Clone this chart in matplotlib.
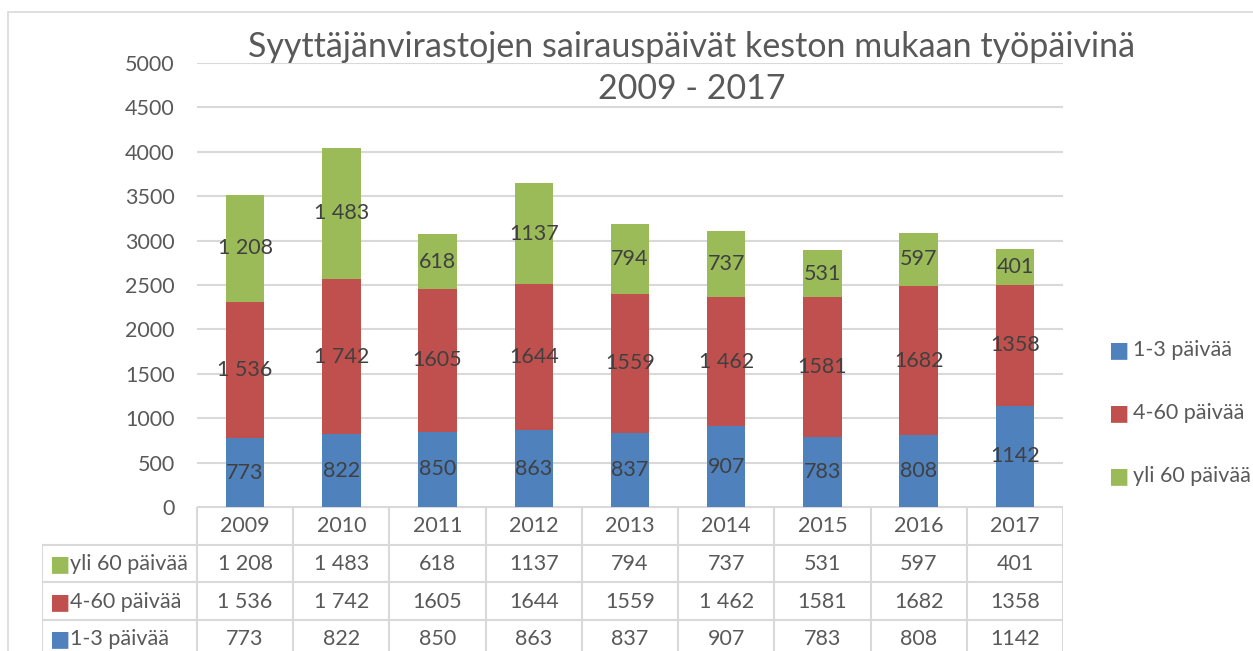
import matplotlib
matplotlib.use("Agg")
import matplotlib.pyplot as plt
from matplotlib.patches import Rectangle
import numpy as np

plt.rcParams['font.family'] = ['Lato', 'DejaVu Sans']

years = ["2009", "2010", "2011", "2012", "2013", "2014", "2015", "2016", "2017"]
series_names = ["1-3 päivää", "4-60 päivää", "yli 60 päivää"]
short_days = [773, 822, 850, 863, 837, 907, 783, 808, 1142]
mid_days = [1536, 1742, 1605, 1644, 1559, 1462, 1581, 1682, 1358]
long_days = [1208, 1483, 618, 1137, 794, 737, 531, 597, 401]
# labels as they are written in the source table (mixed thousand separators)
short_labels = ["773", "822", "850", "863", "837", "907", "783", "808", "1142"]
mid_labels = ["1 536", "1 742", "1605", "1644", "1559", "1 462", "1581", "1682", "1358"]
long_labels = ["1 208", "1 483", "618", "1137", "794", "737", "531", "597", "401"]
colors = ["#4F81BD", "#C0504D", "#9BBB59"]
title = "Syyttäjänvirastojen sairauspäivät keston mukaan työpäivinä\n2009 - 2017"

W, H = 1253, 651
fig = plt.figure(figsize=(W / 100, H / 100), dpi=100)


def fx(px):
    return px / W


def fy(py):
    return 1 - py / H


txt_c = "#595959"
lbl_c = "#404040"
grid_c = "#d9d9d9"
fs = 15.5

# chart outline
fig.patches.append(Rectangle((fx(8), fy(700)), fx(1300), fy(12) - fy(700),
                             transform=fig.transFigure, fill=False,
                             edgecolor=grid_c, lw=1.2))

ax = fig.add_axes([fx(197), fy(507), fx(1063) - fx(197), fy(63) - fy(507)])
x = np.arange(len(years))
vals = [short_days, mid_days, long_days]
labs = [short_labels, mid_labels, long_labels]
bottom = np.zeros(len(years))
for v, l, c in zip(vals, labs, colors):
    v = np.array(v)
    ax.bar(x, v, width=0.4, bottom=bottom, color=c, zorder=3)
    for xi, b, vi, li in zip(x, bottom, v, l):
        ax.text(xi, b + vi / 2, li, ha="center", va="center", fontsize=fs,
                color=lbl_c, zorder=4)
    bottom = bottom + v

ax.set_xlim(-0.5, len(years) - 0.5)
ax.set_ylim(0, 5000)
ax.set_yticks(np.arange(0, 5001, 500))
ax.yaxis.grid(True, color=grid_c, lw=1.5, zorder=0)
ax.tick_params(axis="y", length=0, labelsize=fs, labelcolor=txt_c, pad=16)
ax.set_xticks([])
for s in ax.spines.values():
    s.set_visible(False)

fig.text(fx(692), fy(68), title, ha="center", va="center", fontsize=24.5,
         color=txt_c, linespacing=1.35)

# data table under the plot, x axis in category units
lab_w = (197 - 42) / ((1063 - 197) / len(years))
tab = fig.add_axes([fx(42), 0, fx(1063) - fx(42), fy(507)])
tab.set_xlim(-0.5 - lab_w, len(years) - 0.5)
row_h = 37.6
tab.set_ylim((H - 507) / row_h, 0)
tab.axis("off")
lw = 1.5
left = -0.5 - lab_w
right = len(years) - 0.5
tab.plot([-0.5, right], [0, 0], color=grid_c, lw=lw)
for r in range(1, 4):
    tab.plot([left, right], [r, r], color=grid_c, lw=lw)
for k in range(len(years) + 1):
    tab.plot([k - 0.5, k - 0.5], [0, 5], color=grid_c, lw=lw)
tab.plot([left, left], [1, 5], color=grid_c, lw=lw)
for i, yr in enumerate(years):
    tab.text(i, 0.5, yr, ha="center", va="center", fontsize=fs, color=txt_c)
rows = [(series_names[2], long_labels, colors[2]),
        (series_names[1], mid_labels, colors[1]),
        (series_names[0], short_labels, colors[0])]
for r, (name, lbls, c) in enumerate(rows, start=1):
    tab.text(left + 0.07, r + 0.52, "■", ha="left", va="center", fontsize=fs,
             color=c, family="DejaVu Sans")
    tab.text(left + 0.29, r + 0.52, name, ha="left", va="center", fontsize=fs,
             color=txt_c)
    for i, l in enumerate(lbls):
        tab.text(i, r + 0.52, l, ha="center", va="center", fontsize=fs,
                 color=txt_c)

# legend on the right
for name, c, py in zip(series_names, colors, [350, 413, 476]):
    fig.text(fx(1108), fy(py), "■", ha="left", va="center", fontsize=fs,
             color=c, family="DejaVu Sans")
    fig.text(fx(1133), fy(py), name, ha="left", va="center", fontsize=fs,
             color=txt_c)

fig.savefig("out.png", dpi=100)
